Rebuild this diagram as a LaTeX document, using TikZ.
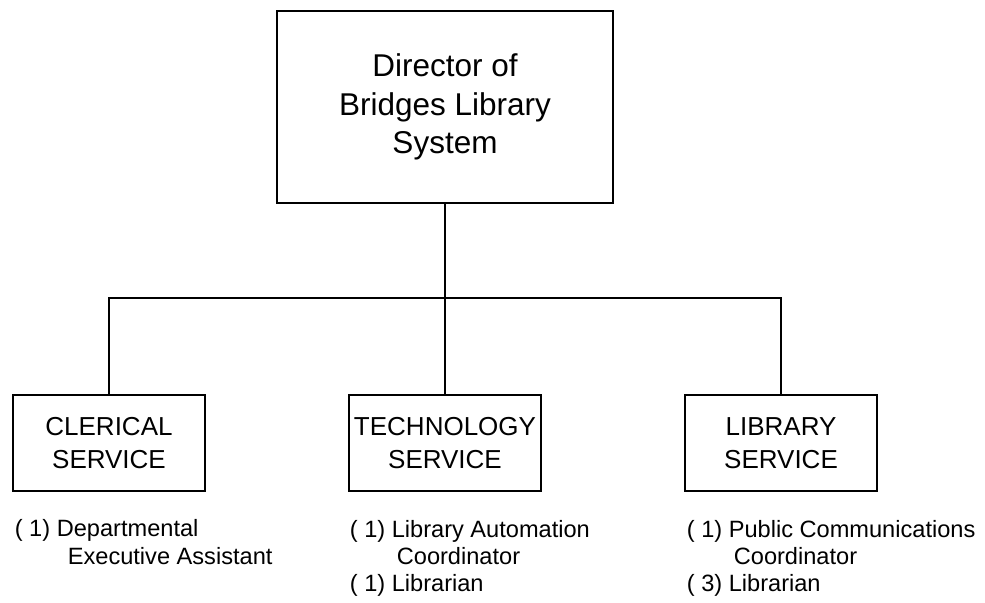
\documentclass[tikz,border=0pt]{standalone}
\usepackage{fontspec}
\setmainfont{Liberation Sans}
\usetikzlibrary{positioning}

\begin{document}
\begin{tikzpicture}[x=0.5pt, y=-0.5pt, line width=0.85pt,
    unit/.style={draw, rectangle, minimum width=96pt, minimum height=48pt,
      inner sep=0pt, align=center, font=\fontsize{13}{16.5}\selectfont},
    duties/.style={anchor=base west, inner sep=0pt, align=left,
      font=\fontsize{11.8}{13.75}\selectfont}]

      \def \gap{23.5pt}
      \useasboundingbox (0,0) rectangle (985,603);

      % Director box
      \node[draw, minimum width=168pt, minimum height=96pt, inner sep=0pt,
        align=center, font=\fontsize{15.75}{19.25}\selectfont]
        (director) at (445,107) {Director of\\Bridges Library\\System};

      % service boxes
      \node[unit] (clerical)   at (109,443) {CLERICAL\\SERVICE};
      \node[unit] (technology) at (445,443) {TECHNOLOGY\\SERVICE};
      \node[unit] (library)    at (781,443) {LIBRARY\\SERVICE};

      % draw the tree lines
      \coordinate (hub) at (445,298);
      \draw (director) -- (hub);
      \draw (hub) -- (technology);
      \draw (clerical) |- (hub) -| (library);

      % staff under each service (base = last line)
      \node[duties] (clericalstaff) at (14,564.5)
        {( 1) Departmental\\\hspace{26.5pt}Executive Assistant};
      \node[duties] (technologystaff) at (349,592)
        {( 1) Library Automation\\\hspace{\gap}Coordinator\\( 1) Librarian};
      \node[duties] (librarystaff) at (686,592)
        {( 1) Public Communications\\\hspace{\gap}Coordinator\\( 3) Librarian};

\end{tikzpicture}
\end{document}
